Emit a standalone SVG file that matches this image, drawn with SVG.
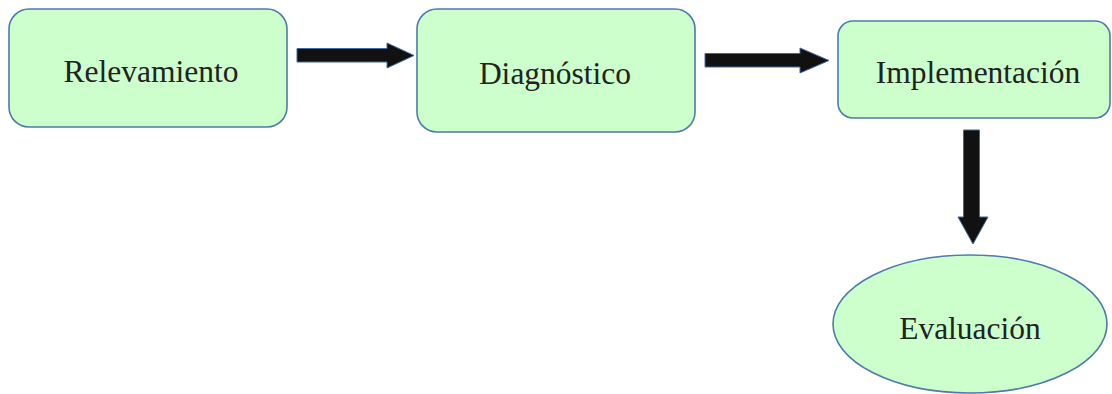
<svg xmlns="http://www.w3.org/2000/svg" width="1112" height="394" viewBox="0 0 1112 394">
<style>
.node{fill:#ccffcc;stroke:#4d7bab;stroke-width:1.6}
.lbl{font-family:"Liberation Serif",serif;font-size:31.5px;fill:#222;text-anchor:middle}
.arr{fill:#111;stroke:#3f6a9a;stroke-width:1;stroke-linejoin:miter}
</style>
<rect width="1112" height="394" fill="#fff"/>
<g id="relevamiento">
<rect class="node" x="9" y="9" width="278" height="118" rx="20"/>
<text class="lbl" x="151" y="82">Relevamiento</text>
</g>
<g id="diagnostico">
<rect class="node" x="417" y="9" width="278" height="123" rx="20"/>
<text class="lbl" x="555" y="84">Diagnóstico</text>
</g>
<g id="implementacion">
<rect class="node" x="838" y="21" width="272" height="97" rx="15"/>
<text class="lbl" x="978" y="83">Implementación</text>
</g>
<g id="evaluacion">
<ellipse class="node" cx="970" cy="324" rx="137" ry="69"/>
<text class="lbl" x="970" y="339">Evaluación</text>
</g>
<g id="connectors">
<polygon class="arr" points="297,48.5 387,48.5 387,43 414,55.5 387,68 387,62 297,62"/>
<polygon class="arr" points="705,53.5 800,53.5 800,48 829,60.5 800,73 800,67 705,67"/>
<polygon class="arr" points="963.5,130 979.5,130 979.5,217 988,217 973,244 958,217 963.5,217"/>
</g>
</svg>
